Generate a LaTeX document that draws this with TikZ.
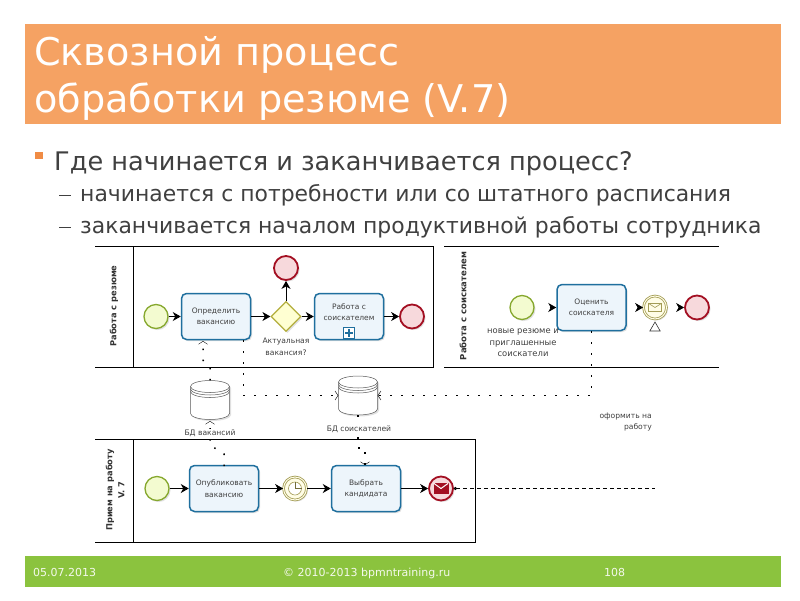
\documentclass[tikz,border=0pt]{standalone}
\usepackage{fontspec}
\setmainfont{DejaVu Sans}
\usetikzlibrary{arrows.meta,shapes.geometric,shadows,positioning}
\definecolor{titlebar}{HTML}{F5A263}
\definecolor{footbar}{HTML}{8BC33E}
\definecolor{bodytext}{HTML}{404040}
\definecolor{bulletcol}{HTML}{F08C45}
\definecolor{taskline}{HTML}{1F6F9E}
\definecolor{taskfill}{HTML}{EDF5FB}
\definecolor{startline}{HTML}{86A82E}
\definecolor{startfill}{HTML}{F3FBD0}
\definecolor{endline}{HTML}{A30F22}
\definecolor{endfill}{HTML}{F7D9DC}
\definecolor{gateline}{HTML}{B3AE3C}
\definecolor{gatefill}{HTML}{FFFFD2}
\definecolor{midline}{HTML}{A39C55}
\definecolor{midfill}{HTML}{FFFDE6}
\tikzset{
    softshadow/.style={drop shadow={shadow xshift=1.5pt,shadow yshift=-1.5pt,opacity=.2,fill=black!60}},
    task/.style={draw=taskline,fill=taskfill,line width=1.5pt,rounded corners=5pt,softshadow,
        minimum width=69pt,minimum height=46pt,inner sep=0pt,align=center,font=\fontsize{7.5}{11.5}\selectfont,text=black!75},
    startev/.style={circle,draw=startline,fill=startfill,line width=1.3pt,minimum size=24pt,inner sep=0pt,softshadow},
    endev/.style={circle,draw=endline,fill=endfill,line width=1.8pt,minimum size=24pt,inner sep=0pt,softshadow},
    midev/.style={circle,double=midfill,double distance=1pt,draw=midline,fill=midfill,line width=.8pt,minimum size=23pt,inner sep=0pt,softshadow},
    gateway/.style={diamond,draw=gateline,fill=gatefill,line width=1.2pt,minimum width=30pt,minimum height=30pt,inner sep=0pt,softshadow},
    datastore/.style={minimum width=39pt,minimum height=39pt,inner sep=0pt},
    storeline/.style={draw=black!65,line width=.5pt},
    smalltext/.style={align=center,font=\fontsize{7.6}{11.5}\selectfont,text=black!75,inner sep=1pt},
    poolname/.style={rotate=90,align=center,font=\bfseries\fontsize{8.3}{12}\selectfont,text=black!80},
    pool/.style={line width=1pt},
    seqflow/.style={-{Stealth[length=8pt,width=9pt,inset=2.5pt]},line width=.9pt},
    stubflow/.style={seqflow,shorten <=#1},
    dataflow/.style={-{Straight Barb[length=3pt,width=9pt,line width=.4pt]},line width=1.5pt,dash pattern=on 1.5pt off 9.5pt},
    msgflow/.style={{Circle[open,length=3pt,width=3pt]}-,line width=.9pt,dash pattern=on 4pt off 3pt},
    bartext/.style={anchor=base west,inner sep=0pt,text=white},
    headline/.style={bartext,font=\fontsize{38.2}{42}\selectfont},
    footline/.style={bartext,font=\fontsize{11}{13}\selectfont,text=white!90!footbar},
    levelone/.style={anchor=base west,inner sep=0pt,text=bodytext,font=\fontsize{25.6}{30}\selectfont},
    leveltwo/.style={anchor=base west,inner sep=0pt,text=bodytext,font=\fontsize{21.9}{26}\selectfont},
    dashmark/.style={draw=bodytext,line width=.8pt},
}
\begin{document}
\begin{tikzpicture}[x=1pt,y=-1pt]
    \useasboundingbox (0,0) rectangle (800,600);
    \fill[white] (0,0) rectangle (800,600);

    % slide frame
    \fill[titlebar] (25,24) rectangle (781,124);
    \fill[footbar] (25,556) rectangle (781,587);
    \node[headline] (title1) at (34,65) {Сквозной процесс};
    \node[headline] (title2) at (34,112) {обработки резюме (V.7)};
    \node[footline] (date) at (33,576) {05.07.2013};
    \node[footline] (copyright) at (283,576) {© 2010-2013 bpmntraining.ru};
    \node[footline] (pagenum) at (604,576) {108};

    % bullets
    \fill[bulletcol] (35,152) rectangle (43,159);
    \node[levelone] (q1) at (54,170) {Где начинается и заканчивается процесс?};
    \draw[dashmark] (59,195) -- (71,195);
    \node[leveltwo] (a1) at (80,201) {начинается с потребности или со штатного расписания};
    \draw[dashmark] (59,227) -- (71,227);
    \node[leveltwo] (a2) at (80,233) {заканчивается началом продуктивной работы сотрудника};

    % pools
    \draw[pool] (95,246) -- (433,246) -- (433,367) -- (95,367);
    \draw[pool] (133,246) -- (133,367);
    \draw[pool] (444,246) -- (719,246);
    \draw[pool] (444,367) -- (719,367);
    \draw[pool] (95,439) -- (475,439) -- (475,542) -- (95,542);
    \draw[pool] (133,439) -- (133,542);
    \node[poolname] (poolres) at (114,306) {Работа с резюме};
    \node[poolname,font=\bfseries\fontsize{8.5}{12}\selectfont] (poolsoi) at (463,306) {Работа с соискателем};
    \node[poolname] (poolhire) at (115,490) {Прием на работу\\V. 7};

    % top left process
    \node[startev] (st1) at (156,316.5) {};
    \node[task] (tkvac) at (216,316.5) {Определить\\вакансию};
    \node[gateway] (gwact) at (286,316.5) {};
    \node[endev] (endtop) at (286,268) {};
    \node[task] (tkwork) at (349,316.5) {Работа с\\соискателем\\[-2.5pt]};
    \node[draw=taskline,fill=white,line width=1pt,minimum size=11pt,inner sep=0pt] (plusbox) at (349,333) {};
    \node[endev] (end1) at (412,316.5) {};
    \node[smalltext,below=5pt of gwact] (lblact) {Актуальная\\вакансия?};
    \fill[taskline] ([shift={(-4,-1)}]plusbox.center) rectangle ([shift={(4,1)}]plusbox.center);
    \fill[taskline] ([shift={(-1,-4)}]plusbox.center) rectangle ([shift={(1,4)}]plusbox.center);
    \draw[seqflow] (st1) -- (tkvac);
    \draw[seqflow] (tkvac) -- (gwact);
    \draw[seqflow] (gwact) -- (endtop);
    \draw[seqflow] (gwact) -- (tkwork);
    \draw[seqflow] (tkwork) -- (end1);

    % top right process
    \node[startev] (st2) at (522,307.5) {};
    \node[task] (tkest) at (591.5,307.5) {Оценить\\соискателя};
    \node[midev] (evmail) at (655,307.5) {};
    \node[endev] (end2) at (697,307.5) {};
    \node[smalltext,font=\fontsize{8.4}{11.5}\selectfont] (lblnew) at (523,343) {новые резюме и\\приглашенные\\соискатели};
    \node[regular polygon,regular polygon sides=3,draw=black!80,fill=white,line width=.6pt,minimum size=12pt,inner sep=0pt] (msgtip) at (655,328) {};
    \node[draw=midline,fill=midfill,line width=.6pt,minimum width=13pt,minimum height=8pt,inner sep=0pt] (envtop) at (evmail) {};
    \draw[midline,line width=.6pt] (envtop.north west) -- (envtop.center) -- (envtop.north east);
    \draw[stubflow=15pt] (st2) -- (tkest);
    \draw[stubflow=11pt] (tkest) -- (evmail);
    \draw[stubflow=14pt] (evmail) -- (end2);

    % bottom process
    \node[startev] (st3) at (157,488.5) {};
    \node[task] (tkpub) at (224,488.5) {Опубликовать\\вакансию};
    \node[midev] (evtimer) at (295,488.5) {};
    \node[task] (tkpick) at (366,488.5) {Выбрать\\кандидата};
    \node[endev,draw=endline] (endmsg) at (441,488.5) {};
    \node[circle,draw=midline,fill=white,line width=.6pt,minimum size=13pt,inner sep=0pt] (clock) at (evtimer) {};
    \draw[midline!70!black,line width=.6pt] (clock.north) -- (clock.center) -- (clock.east);
    \node[fill=endline,draw=endline,minimum width=14pt,minimum height=10pt,inner sep=0pt] (envend) at (endmsg) {};
    \draw[white,line width=1pt] (envend.north west) -- (envend.center) -- (envend.north east);
    \draw[seqflow] (st3) -- (tkpub);
    \draw[seqflow] (tkpub) -- (evtimer);
    \draw[seqflow] (evtimer) -- (tkpick);
    \draw[seqflow] (tkpick) -- (endmsg);
    \coordinate (msgend) at (655,488.5);
    \draw[msgflow] (endmsg.east) -- (msgend);

    % data stores
    \node[datastore] (dbvac) at (210,400) {};
    \node[datastore] (dbsoi) at (358,395.5) {};
    \foreach \n in {dbvac,dbsoi} {
        \draw[storeline,fill=white,softshadow] ([shift={(-19.5,-13.5)}]\n.center) -- ++(0,27)
            arc[start angle=180,end angle=0,x radius=19.5,y radius=6] -- ++(0,-27)
            arc[start angle=0,end angle=-180,x radius=19.5,y radius=6] -- cycle;
        \foreach \d in {-13.5,-11,-8.5}
            \draw[storeline] ([shift={(-19.5,\d)}]\n.center) arc[start angle=180,end angle=0,x radius=19.5,y radius=6];
    }

    % data associations
    \coordinate (tkvacin) at (203,341);
    \coordinate (tkvacout) at (243.5,340);
    \coordinate (tkpubin) at (224,466);
    \coordinate (tkpickin) at (365,465);
    \coordinate (dbvacin) at (210,421);
    \draw[dataflow] (dbvac.north) -- ++(0,-13) -- ++(-7,-7) -- (tkvacin);
    \draw[dataflow] (tkvacout) |- (dbsoi.west);
    \draw[dataflow] (tkest.south) |- (dbsoi.east);
    \draw[dataflow] (tkpubin) -- ++(0,-12) -- ++(-14,-9) -- (dbvacin);
    \draw[dataflow] (dbsoi.south) -- ++(0,33) -- ++(7,0) -- (tkpickin);

    % labels on top of the flows
    \node[smalltext,fill=white] (lbldbvac) at (210,433) {БД вакансий};
    \node[smalltext,fill=white] (lbldbsoi) at (359,429) {БД соискателей};
    \node[smalltext,align=right,anchor=east] (lblhire) at (653,422) {оформить на\\работу};
\end{tikzpicture}
\end{document}
